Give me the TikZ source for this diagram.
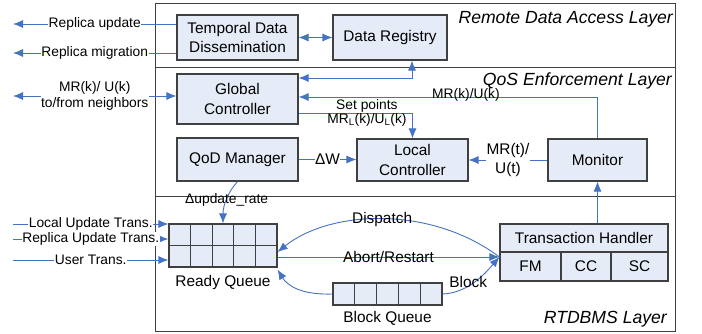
\documentclass[tikz,border=0pt]{standalone}
\usepackage{fontspec}
\setmainfont{Liberation Sans}
\usetikzlibrary{arrows.meta,positioning,calc}
\definecolor{boxfill}{RGB}{230,236,247}
\definecolor{boxline}{RGB}{64,64,64}
\definecolor{flowblue}{RGB}{68,114,196}

\tikzset{
  blk/.style={draw=boxline,fill=boxfill,line width=1.1pt,inner sep=0pt,align=center,font=\fontsize{15.4}{19.5}\selectfont},
  cell/.style={draw=boxline,line width=1.1pt},
  flow/.style={draw=flowblue,line width=0.9pt,->},
  lbl/.style={font=\fontsize{13.8}{16}\selectfont,fill=white,inner sep=0.5pt,align=center},
  tag/.style={font=\fontsize{13.8}{16}\selectfont,inner sep=0pt},
  big/.style={font=\fontsize{15.4}{19.5}\selectfont,inner sep=0pt},
  bigl/.style={font=\fontsize{15.4}{19.5}\selectfont,fill=white,inner sep=0.5pt,align=center},
  layer/.style={font=\fontsize{17.6}{20}\selectfont\itshape,anchor=east,inner sep=0pt},
  >={Latex[length=10pt,width=8pt]}
}

\begin{document}
\begin{tikzpicture}[x=1pt,y=-1pt]
\useasboundingbox (0,0) rectangle (702,333);
% layers
\draw[boxline,line width=0.9pt] (155,3) rectangle (675,331);
\draw[boxline,line width=0.9pt] (155,67) -- (675,67);
\draw[boxline,line width=0.9pt] (155,196) -- (675,196);
\node[layer] (lrda) at (673,19.5) {Remote Data Access Layer};
\node[layer] (lqos) at (672,81) {QoS Enforcement Layer};
\node[layer] (lrtd) at (667,319.5) {RTDBMS Layer};

% boxes
\node[blk,minimum width=121pt,minimum height=45pt] (tdd) at (237.5,37.5) {Temporal Data\\Dissemination};
\node[blk,minimum width=114pt,minimum height=45pt] (dreg) at (390,37.5) {Data Registry};
\node[blk,minimum width=121pt,minimum height=50pt] (gc) at (237.5,99) {Global\\Controller};
\node[blk,minimum width=121pt,minimum height=43pt] (qod) at (237.5,159.5) {QoD Manager};
\node[blk,minimum width=111pt,minimum height=42pt] (lc) at (412.5,160) {Local\\Controller};
\node[blk,minimum width=99pt,minimum height=42pt] (mon) at (597.5,160) {Monitor};

% transaction handler
\node[blk,minimum width=168pt,minimum height=28pt] (thh) at (584,238) {Transaction Handler};
\node[blk,minimum width=61pt,minimum height=29pt] (fm) at (530.5,266.5) {FM};
\node[blk,minimum width=50pt,minimum height=29pt] (cc) at (586,266.5) {CC};
\node[blk,minimum width=57pt,minimum height=29pt] (sc) at (639.5,266.5) {SC};

% queues
\node[blk,minimum width=108pt,minimum height=43pt] (rq) at (223,245.5) {};
\foreach \i in {1,...,4}
  \draw[cell] ($(rq.north west)!\i/5!(rq.north east)$) -- ($(rq.south west)!\i/5!(rq.south east)$);
\draw[cell] (rq.west) -- (rq.east);
\node[big,below=8pt of rq] (rqlbl) {Ready Queue};
\node[blk,minimum width=109pt,minimum height=22pt] (bq) at (387.5,294) {};
\foreach \i in {1,...,4}
  \draw[cell] ($(bq.north west)!\i/5!(bq.north east)$) -- ($(bq.south west)!\i/5!(bq.south east)$);
\node[big,below=6pt of bq] (bqlbl) {Block Queue};

% free ends
\coordinate (ru) at (13,24);
\coordinate (rm) at (13,53);
\coordinate (nb) at (13,96);
\coordinate (lu) at (13,224);
\coordinate (ur) at (13,239);
\coordinate (us) at (13,260);
\coordinate (thin) at ([yshift=9.5pt]fm.west);

% connectors
\draw[flow] (tdd.west |- ru) -- (ru) node[midway,lbl]{Replica update};
\draw[flow] (tdd.west |- rm) -- (rm) node[midway,lbl]{Replica migration};
\draw[flow,<->] (nb) -- (gc.west |- nb) node[midway,lbl]{MR(k)/ U(k)\\to/from neighbors};
\draw[flow,<->] (tdd) -- (dreg);
\draw[flow,<->] ([yshift=21pt]gc.east) -| ([xshift=22pt]dreg.south);
\draw[flow] (mon.north) |- ([yshift=2pt]gc.east) node[pos=0.72,tag,yshift=2.5pt]{MR(k)/U(k)};
\draw[flow] ([yshift=-14pt]gc.east) -| (lc.north)
  node[pos=0.3,above,tag]{Set points}
  node[pos=0.3,below,tag]{MR\textsubscript{L}(k)/U\textsubscript{L}(k)};
\draw[flow] (qod.east) -- (qod.east -| lc.west) node[midway,bigl]{ΔW};
\draw[flow] (mon) -- (lc) node[midway,bigl]{MR(t)/\\U(t)};
\draw[flow] (mon.south |- thh.north) -- (mon.south);
\draw[flow] (qod.south) .. controls (228,192) and (223,205) .. (rq.north) node[pos=0.5,tag]{Δupdate\_rate};
\draw[flow] (lu) -- (lu -| rq.west) node[midway,lbl]{Local Update Trans.};
\draw[flow] (ur) -- (ur -| rq.west) node[midway,lbl]{Replica Update Trans.};
\draw[flow] (us) -- (us -| rq.west) node[midway,lbl]{User Trans.};
\draw[flow] (rq.east |- thin) -- (thin) node[midway,big]{Abort/Restart};
\draw[flow] (thin) .. controls (430,205) and (330,210) .. ([yshift=-6.5pt]rq.east) node[pos=0.5,big]{Dispatch};
\draw[flow] (bq.east) .. controls (470,293) and (488,270) .. (thin) node[pos=0.4,big,xshift=-3pt,yshift=2pt]{Block};
\draw[flow] (bq.west) .. controls (300,295) and (287,285) .. ([yshift=-2pt]rq.south east);
\end{tikzpicture}
\end{document}
